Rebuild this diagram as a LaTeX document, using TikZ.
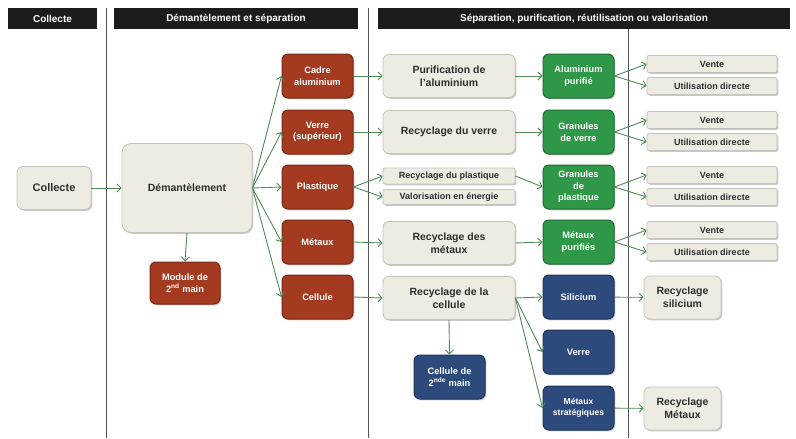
\documentclass[tikz,border=0pt]{standalone}
\usepackage{fontspec}
\setmainfont{Liberation Sans}
\usetikzlibrary{arrows.meta,shadows}
\definecolor{hdrblack}{HTML}{1C1C1C}
\definecolor{boxgray}{HTML}{EEECE2}
\definecolor{boxedge}{HTML}{C4C3BB}
\definecolor{textdark}{HTML}{2E2E2E}
\definecolor{redfill}{HTML}{A43A1F}
\definecolor{rededge}{HTML}{7A2A14}
\definecolor{greenfill}{HTML}{2F9848}
\definecolor{greenedge}{HTML}{1F6A31}
\definecolor{bluefill}{HTML}{2C4A7C}
\definecolor{blueedge}{HTML}{1B3358}
\definecolor{arrowgreen}{HTML}{4E8B57}
\definecolor{divline}{HTML}{555555}
\begin{document}
\begin{tikzpicture}[x=1pt,y=-1pt,
  hdr/.style={fill=hdrblack,text=white,inner sep=0pt,minimum height=21pt,
    font=\fontsize{10}{12}\selectfont\bfseries},
  shad/.style={drop shadow={shadow xshift=1.3pt,shadow yshift=-1.3pt,opacity=0.35,fill=black!60}},
  graybox/.style={shad,fill=boxgray,draw=boxedge,line width=0.8pt,rounded corners=6pt,
    text=textdark,align=center,inner sep=1pt,
    font=\fontsize{10.5}{13}\selectfont\bfseries},
  smallgray/.style={graybox,rounded corners=2pt,font=\fontsize{9}{10}\selectfont\bfseries},
  redbox/.style={shad,fill=redfill,draw=rededge,line width=1pt,rounded corners=6pt,
    text=white,align=center,inner sep=1pt,minimum width=71pt,minimum height=44pt,
    font=\fontsize{9.3}{11.5}\selectfont\bfseries},
  greenbox/.style={redbox,fill=greenfill,draw=greenedge},
  bluebox/.style={redbox,fill=bluefill,draw=blueedge},
  arr/.style={draw=arrowgreen,line width=0.9pt,-{Straight Barb[length=4pt,width=8pt]}}
]
\useasboundingbox (0,0) rectangle (796,439);
\fill[white] (0,0) rectangle (796,439);

% dividers
\draw[divline,line width=1pt] (106,8) -- (106,438);
\draw[divline,line width=1pt] (368,8) -- (368,438);
\draw[divline,line width=1pt] (628,8) -- (628,438);

% headers
\node[hdr,minimum width=89pt] (h1) at (52.5,18.5) {Collecte};
\node[hdr,minimum width=244pt] (h2) at (236,18.5) {Démantèlement et séparation};
\node[hdr,minimum width=412pt] (h3) at (584,18.5) {Séparation, purification, réutilisation ou valorisation};

% column 1-2
\node[graybox,minimum width=74pt,minimum height=43pt,font=\fontsize{11}{13}\selectfont\bfseries] (collecte) at (54,188) {Collecte};
\node[graybox,minimum width=130pt,minimum height=89pt,rounded corners=9pt] (dem) at (187,188) {Démantèlement};
\node[redbox,minimum width=70pt,minimum height=42pt] (module) at (185,283) {Module de\\2\textsuperscript{nd} main};

\node[redbox] (cadre) at (317.5,76) {Cadre\\aluminium};
\node[redbox] (verre) at (317.5,132) {Verre\\(supérieur)};
\node[redbox] (plast) at (317.5,187) {Plastique};
\node[redbox] (metaux) at (317.5,242) {Métaux};
\node[redbox] (cellule) at (317.5,297) {Cellule};

% column 3
\node[graybox,minimum width=132pt,minimum height=43pt] (purif) at (449,76) {Purification de\\l'aluminium};
\node[graybox,minimum width=132pt,minimum height=43pt] (recverre) at (449,132) {Recyclage du verre};
\node[smallgray,minimum width=132pt,minimum height=16pt] (recplast) at (449,176) {Recyclage du plastique};
\node[smallgray,minimum width=132pt,minimum height=15pt] (valor) at (449,197) {Valorisation en énergie};
\node[graybox,minimum width=132pt,minimum height=43pt] (recmet) at (449,243) {Recyclage des\\métaux};
\node[graybox,minimum width=132pt,minimum height=43pt] (reccell) at (449,298) {Recyclage de la\\cellule};
\node[bluebox] (cell2) at (449.5,377) {Cellule de\\2\textsuperscript{nde} main};

\node[greenbox] (alu) at (578.5,76) {Aluminium\\purifié};
\node[greenbox] (gverre) at (578.5,132) {Granules\\de verre};
\node[greenbox] (gplast) at (578.5,187) {Granules\\de\\plastique};
\node[greenbox] (metpur) at (578.5,242) {Métaux\\purifiés};
\node[bluebox] (sil) at (578.5,297) {Silicium};
\node[bluebox] (bverre) at (578.5,352) {Verre};
\node[bluebox,font=\fontsize{8.6}{11.5}\selectfont\bfseries] (metstrat) at (578.5,408) {Métaux\\stratégiques};

% column 4
\foreach \n/\y in {1/64,2/120,3/175,4/230}{
  \node[smallgray,minimum width=130pt,minimum height=17pt] (v\n) at (712,\y) {Vente};
}
\foreach \n/\y in {1/86,2/142,3/197,4/252}{
  \node[smallgray,minimum width=130pt,minimum height=17pt] (u\n) at (712,\y) {Utilisation directe};
}
\node[graybox,minimum width=77pt,minimum height=43pt] (recsil) at (682.5,297.5) {Recyclage\\silicium};
\node[graybox,minimum width=77pt,minimum height=43pt] (recmetx) at (682.5,408.5) {Recyclage\\Métaux};

% arrows
\draw[arr] (collecte) -- (dem);
\foreach \t in {cadre,verre,plast,metaux,cellule}{
  \draw[arr] (dem.east) -- (\t.west);
}
\draw[arr] (dem.south) -- (module.north);
\draw[arr] (cadre) -- (purif);
\draw[arr] (verre) -- (recverre);
\draw[arr] (plast.east) -- (recplast.west);
\draw[arr] (plast.east) -- (valor.west);
\draw[arr] (metaux.east) -- (recmet.west);
\draw[arr] (cellule.east) -- (reccell.west);
\draw[arr] (purif) -- (alu);
\draw[arr] (recverre) -- (gverre);
\draw[arr] (recplast.east) -- (gplast.west);
\draw[arr] (recmet.east) -- (metpur.west);
\draw[arr] (reccell.east) -- (sil.west);
\draw[arr] (reccell.east) -- (bverre.west);
\draw[arr] (reccell.east) -- (metstrat.west);
\draw[arr] (reccell.south) -- (cell2.north);
\foreach \g/\n in {alu/1,gverre/2,gplast/3,metpur/4}{
  \draw[arr] (\g.east) -- (v\n.west);
  \draw[arr] (\g.east) -- (u\n.west);
}
\draw[arr] (sil) -- (recsil);
\draw[arr] (metstrat) -- (recmetx);
\end{tikzpicture}
\end{document}
